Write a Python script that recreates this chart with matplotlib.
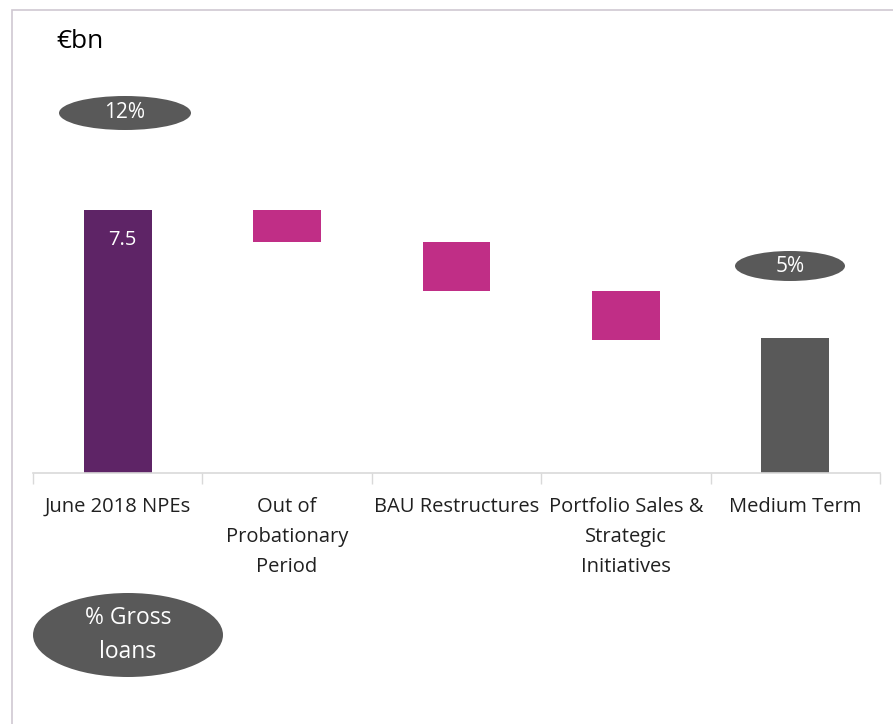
import numpy as np
import matplotlib.pyplot as plt
from matplotlib.patches import Ellipse, Rectangle

plt.rcParams['font.family'] = ['Open Sans', 'DejaVu Sans']

W, H = 893, 724

categories = ['June 2018 NPEs', 'Out of\nProbationary\nPeriod', 'BAU Restructures',
              'Portfolio Sales &\nStrategic\nInitiatives', 'Medium Term']
start_value = 7.5
deltas = [-0.9, -1.4, -1.4]
end_value = 3.85
start_pct = '12%'
end_pct = '5%'

PURPLE = '#5E2466'
MAGENTA = '#C02E86'
GREY = '#595959'

def px(x, y):
    return x / W, 1 - y / H

fig = plt.figure(figsize=(W / 100, H / 100), dpi=100)

# light frame round the slide (only left and top edges show)
fig.patches.append(Rectangle(px(12, 760), 1.2, (760 - 10) / H, transform=fig.transFigure,
                             fill=False, edgecolor='#cfc8d2', linewidth=1.2))

left, bottom = px(33, 473)
right, top = px(880, 10)
ax = fig.add_axes([left, bottom, right - left, top - bottom])

# waterfall
levels = start_value + np.concatenate([[0], np.cumsum(deltas)])
x = np.arange(len(categories))
width = 0.4
ax.bar(x[0], start_value, width, color=PURPLE)
ax.bar(x[1:4], -np.array(deltas), width, bottom=levels[1:], color=MAGENTA)
ax.bar(x[4], end_value, width, color=GREY)
ax.text(x[0] + 0.03, start_value - 0.87, f'{start_value:g}', color='white',
        fontsize=14.5, ha='center', va='center')

ax.set_xlim(-0.5, 4.5)
ax.set_ylim(0, 463 / 35.07)
ax.set_yticks([])
for s in ['top', 'right', 'left']:
    ax.spines[s].set_visible(False)
ax.spines['bottom'].set_color('#d9d9d9')
ax.spines['bottom'].set_linewidth(1.2)
ax.set_xticks(np.arange(-0.5, 5.0, 1.0))
ax.set_xticklabels([])
ax.tick_params(axis='x', which='major', length=8, color='#d9d9d9', width=1)
ax.set_xticks(x, minor=True)
ax.set_xticklabels(categories, minor=True, fontsize=14.5, color='#202020', linespacing=1.67)
ax.tick_params(axis='x', which='minor', length=0, pad=17)
for lbl in ax.get_xticklabels(minor=True):
    lbl.set_va('top')

fig.text(*px(56, 42), '€bn', fontsize=19, ha='left', va='center', color='black')

# percentage ovals
def oval(cx, cy, w, h, text, fs):
    fig.patches.append(Ellipse(px(cx, cy), w / W, h / H, transform=fig.transFigure,
                               facecolor=GREY, edgecolor='none'))
    fig.text(*px(cx, cy), text, fontsize=fs, color='white', ha='center', va='center',
             linespacing=1.55)

oval(125, 113, 132, 34, start_pct, 15)
oval(790, 266, 110, 30, end_pct, 15)
oval(128, 635, 190, 84, '% Gross\nloans', 16.5)

fig.savefig('out.png', dpi=100)
